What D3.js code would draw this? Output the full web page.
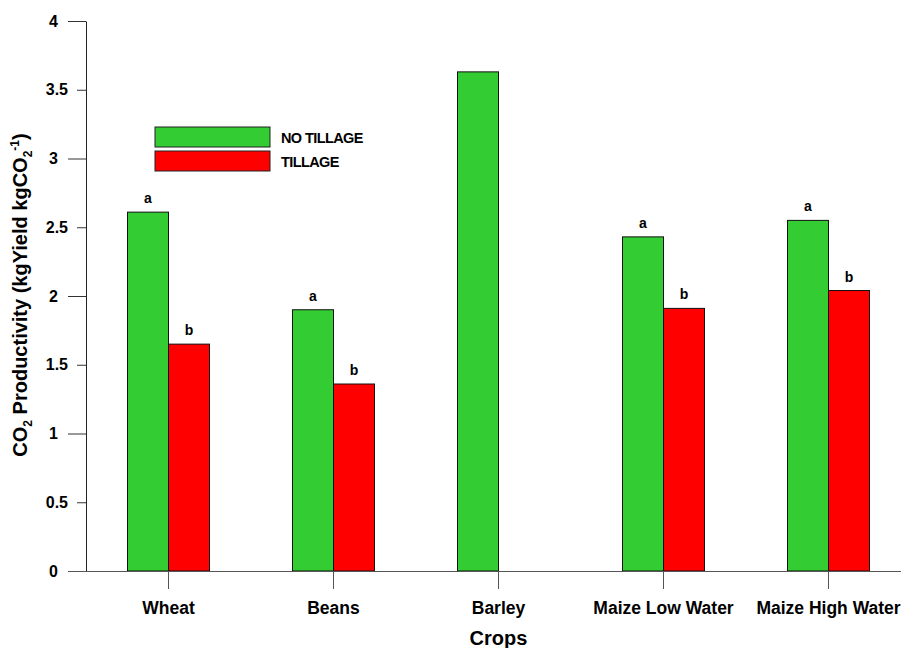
<!DOCTYPE html>
<html>
<head>
<meta charset="utf-8">
<script src="https://cdn.jsdelivr.net/npm/d3@7"></script>
<style>
  html, body { margin: 0; padding: 0; background: #fff; }
  svg { display: block; font-family: "Liberation Sans", Arial, sans-serif; }
</style>
</head>
<body>
<svg id="chart" width="901" height="648"></svg>
<script>
// CO2 productivity by crop under two soil treatments
const crops = ["Wheat", "Beans", "Barley", "Maize Low Water", "Maize High Water"];
const noTillage = [2.61, 1.90, 3.63, 2.43, 2.55];
const tillage = [1.65, 1.36, null, 1.91, 2.04];
const noTillageLetters = ["a", "a", "", "a", "a"];
const tillageLetters = ["b", "b", "", "b", "b"];
const seriesNames = ["NO TILLAGE", "TILLAGE"];
const seriesColors = ["#33CC33", "#FF0000"];
const yTicks = [0, 0.5, 1, 1.5, 2, 2.5, 3, 3.5, 4];

const svg = d3.select("#chart");
const plot = { left: 86, right: 911, top: 21, bottom: 571 };

const x = d3.scaleBand().domain(crops).range([plot.left, plot.right]).padding(0);
const barW = 41;
const y = d3.scaleLinear().domain([0, 4]).range([plot.bottom, plot.top]);

const series = [
  { name: seriesNames[0], values: noTillage, letters: noTillageLetters, color: seriesColors[0], offset: -barW },
  { name: seriesNames[1], values: tillage, letters: tillageLetters, color: seriesColors[1], offset: 0 }
];

// bars with significance letters
series.forEach(s => {
  const center = c => x(c) + x.bandwidth() / 2;
  const data = crops.map((c, i) => ({ c, v: s.values[i], l: s.letters[i] })).filter(d => d.v != null);
  svg.append("g").selectAll("rect").data(data).join("rect")
    .attr("x", d => center(d.c) + s.offset)
    .attr("y", d => y(d.v))
    .attr("width", barW)
    .attr("height", d => y(0) - y(d.v))
    .attr("fill", s.color)
    .attr("stroke", "#111")
    .attr("stroke-width", 1);
  svg.append("g").selectAll("text").data(data.filter(d => d.l)).join("text")
    .attr("x", d => center(d.c) + s.offset + barW / 2)
    .attr("y", d => y(d.v) - 9)
    .attr("text-anchor", "middle")
    .attr("font-size", 14)
    .attr("font-weight", "bold")
    .text(d => d.l);
});

// y axis: long ticks on whole numbers, short ticks on halves
const yAxis = svg.append("g").attr("transform", `translate(${plot.left},0)`)
  .call(d3.axisLeft(y).tickValues(yTicks).tickFormat(d => d3.format("")(d)).tickSizeOuter(0));
yAxis.select(".domain").attr("stroke", "#222");
yAxis.selectAll(".tick line")
  .attr("stroke", "#333")
  .attr("x2", d => Number.isInteger(d) ? -18 : -9);
yAxis.selectAll(".tick text")
  .attr("x", d => Number.isInteger(d) ? -28 : -18)
  .attr("font-size", 16)
  .attr("font-weight", "bold")
  .attr("fill", "#000")
  .attr("font-family", "Liberation Sans, Arial, sans-serif");

// x axis
const xAxis = svg.append("g").attr("transform", `translate(0,${plot.bottom})`)
  .call(d3.axisBottom(x).tickSize(18).tickSizeOuter(0).tickPadding(13));
xAxis.select(".domain").attr("stroke", "#555").attr("d", `M68,0.5H901`);
xAxis.selectAll(".tick line").attr("stroke", "#555");
xAxis.selectAll(".tick text")
  .attr("font-size", 17.5)
  .attr("font-weight", "bold")
  .attr("fill", "#000")
  .attr("font-family", "Liberation Sans, Arial, sans-serif");

// axis titles
svg.append("text")
  .attr("x", x("Barley") + x.bandwidth() / 2)
  .attr("y", 645)
  .attr("text-anchor", "middle")
  .attr("font-size", 20)
  .attr("font-weight", "bold")
  .text("Crops");

const yTitle = svg.append("text")
  .attr("transform", `translate(27,295) rotate(-90)`)
  .attr("text-anchor", "middle")
  .attr("font-size", 20)
  .attr("font-weight", "bold");
yTitle.append("tspan").text("CO");
yTitle.append("tspan").attr("font-size", 12).attr("dy", 5).text("2");
yTitle.append("tspan").attr("dy", -5).text(" Productivity (kgYield kgCO");
yTitle.append("tspan").attr("font-size", 12).attr("dy", 5).text("2");
yTitle.append("tspan").attr("font-size", 12).attr("dy", -13).text("-1");
yTitle.append("tspan").attr("dy", 8).text(")");

// legend
const legend = svg.append("g").attr("transform", "translate(155,127)");
series.forEach((s, i) => {
  legend.append("rect")
    .attr("x", 0).attr("y", i * 24)
    .attr("width", 115).attr("height", 20)
    .attr("fill", s.color)
    .attr("stroke", "#222");
  legend.append("text")
    .attr("x", 126).attr("y", i * 24 + 15.5)
    .attr("font-size", 14.5)
    .attr("letter-spacing", -0.6)
    .attr("font-weight", "bold")
    .text(s.name);
});
</script>
</body>
</html>
